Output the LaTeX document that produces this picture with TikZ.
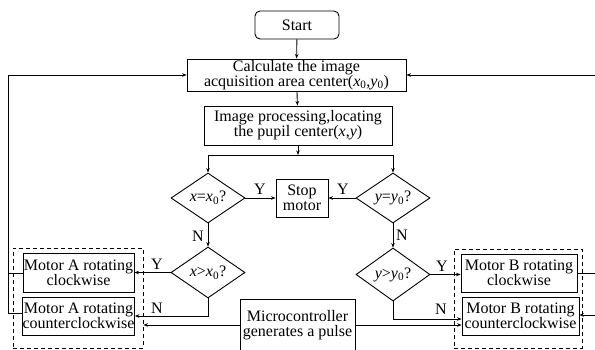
\documentclass[tikz,border=0pt]{standalone}
\usepackage{fontspec}
\setmainfont{Liberation Serif}
\usetikzlibrary{shapes.geometric,arrows.meta}
\newcommand{\vi}[1]{\textit{#1}}
\newcommand{\zs}{\textsubscript{0}}
\begin{document}
\begin{tikzpicture}[x=1pt,y=-1pt,
  every node/.style={font=\fontsize{16}{14.8}\selectfont},
  box/.style={draw,line width=0.9pt,inner sep=0pt,align=center},
  decision/.style={draw,line width=0.9pt,diamond,shape aspect=1.5,inner sep=0pt},
  group/.style={draw,line width=0.9pt,dash pattern=on 4pt off 3pt},
  conn/.style={line width=0.9pt,-{Stealth[length=4.5pt,width=3.5pt]}},
  plain/.style={line width=0.9pt},
  lbl/.style={inner sep=0pt}]
\useasboundingbox (0,0) rectangle (595,350);

% main column
\node[box,rounded corners=5pt,minimum width=84pt,minimum height=28pt] (start) at (297,25) {Start};
\node[box,minimum width=219pt,minimum height=32pt] (calc) at (296.5,75)
  {Calculate the image\\acquisition area center(\vi{x}\zs,\vi{y}\zs)};
\node[box,minimum width=188pt,minimum height=39pt] (proc) at (298,125.5)
  {Image processing,locating\\the pupil center(\vi{x},\vi{y})};
\coordinate (j) at (298,155);

% decisions
\node[decision,minimum width=74pt,minimum height=50pt] (dxe) at (208,198) {\vi{x}=\vi{x}\zs?};
\node[decision,minimum width=74pt,minimum height=50pt] (dye) at (393,198) {\vi{y}=\vi{y}\zs?};
\node[box,minimum width=52pt,minimum height=38pt] (stop) at (302,198) {Stop\\motor};
\node[decision,minimum width=74pt,minimum height=51pt] (dxg) at (208,272.5) {\vi{x}>\vi{x}\zs?};
\node[decision,minimum width=74pt,minimum height=53pt] (dyg) at (393,274.5) {\vi{y}>\vi{y}\zs?};

% motor A group
\node[box,minimum width=111pt,minimum height=39pt] (acw) at (78.5,272.5) {Motor A rotating\\clockwise};
\node[box,minimum width=111pt,minimum height=38pt] (accw) at (78.5,316) {Motor A rotating\\counterclockwise};
\node[group,minimum width=130pt,minimum height=100pt] (ga) at (78,298) {};

% motor B group
\node[box,minimum width=116pt,minimum height=38pt] (bcw) at (519,273) {Motor B rotating\\clockwise};
\node[box,minimum width=117pt,minimum height=38pt] (bccw) at (520.5,316) {Motor B rotating\\counterclockwise};
\node[group,minimum width=128pt,minimum height=99pt] (gb) at (518,298.5) {};

% pulse source
\node[box,minimum width=115pt,minimum height=53pt] (mcu) at (297.5,325.5) {Microcontroller\\generates a pulse};

% main flow
\draw[conn] (start) -- (calc);
\draw[conn] (calc) -- (proc);
\draw[conn] (proc.south) -- (j);
\draw[plain] (j) -- (dxe.north |- j);
\draw[plain] (j) -- (dye.north |- j);
\draw[conn] (dxe.north |- j) -- (dxe.north);
\draw[conn] (dye.north |- j) -- (dye.north);

\draw[conn] (dxe.east) -- (stop.west);
\draw[conn] (dye.west) -- (stop.east);
\node[lbl] at (260,189) {Y};
\node[lbl] at (343,189) {Y};

\draw[conn] (dxe.south) -- (dxg.north);
\draw[conn] (dye.south) -- (dyg.north);
\node[lbl] at (198,236) {N};
\node[lbl] at (402,235) {N};

\draw[conn] (dxg.west) -- (acw.east |- dxg.west);
\node[lbl] at (157,264) {Y};
\coordinate (an) at (208,316);
\draw[conn] (dxg.south) -- (an) -- (accw.east |- an);
\node[lbl] at (157,308) {N};

\draw[conn] (dyg.east) -- (bcw.west |- dyg.east);
\node[lbl] at (442,266) {Y};
\coordinate (bn) at (393,319);
\draw[conn] (dyg.south) -- (bn) -- (bccw.west |- bn);
\node[lbl] at (441,309) {N};

% pulses
\coordinate (pa) at (240,325);
\coordinate (pb) at (355,325);
\draw[conn] (pa) -- (ga.east |- pa);
\draw[conn] (pb) -- (bccw.west |- pb);

% feedback to the start of the loop
\coordinate (fl) at (8,75);
\coordinate (fa1) at (8,273);
\coordinate (fa2) at (8,313);
\draw[plain] (acw.west |- fa1) -- (fa1);
\draw[plain] (accw.west |- fa2) -- (fa2) -- (fl);
\draw[conn] (fl) -- (calc.west);

\coordinate (fr) at (595,75);
\coordinate (fb1) at (595,273);
\coordinate (fb2) at (595,315);
\draw[conn] (fr) -- (calc.east);
\draw[plain] (bcw.east |- fb1) -- (fb1);
\draw[conn] (fb2) -- (bccw.east |- fb2);
\end{tikzpicture}
\end{document}
